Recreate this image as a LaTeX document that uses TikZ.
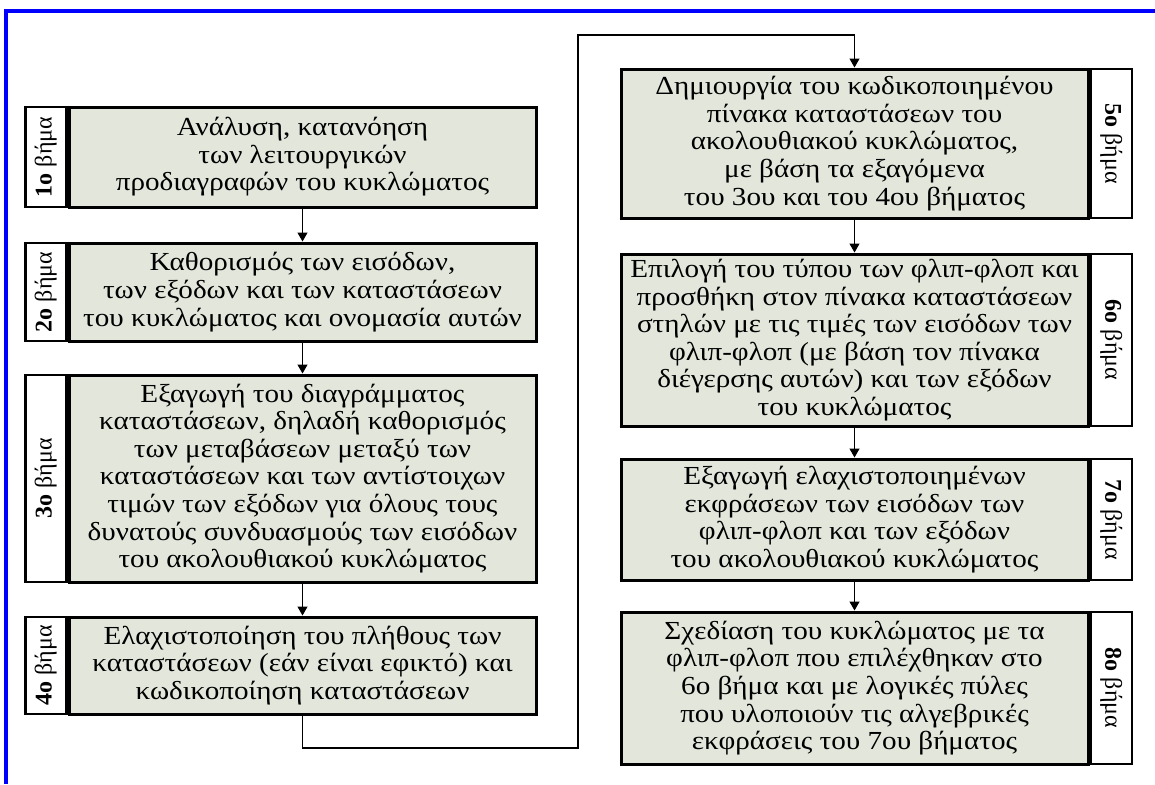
\documentclass[tikz,border=0pt]{standalone}
\usepackage{fontspec}
\setmainfont{Liberation Serif}
\newfontfamily\stepfont[FakeStretch=1.12]{Liberation Serif}
\usepackage{graphicx}
\usepackage{xcolor}
\usepackage{tikz}
\usetikzlibrary{
	arrows.meta,
	positioning
}
\definecolor{BoxGrey}{RGB}{226,230,219}
\definecolor{FrameBlue}{RGB}{0,0,255}

\tikzset{
	stepbox/.style={draw, line width=1.5pt, fill=BoxGrey, align=center, inner sep=0pt,
		minimum width=233.5pt, font=\stepfont\fontsize{13pt}{13.8pt}\selectfont},
	tagbox/.style={draw, line width=1.2pt, fill=white, inner sep=0pt,
		minimum width=20.5pt, font=\fontsize{12pt}{13.8pt}\selectfont},
	link/.style={line width=0.6pt, -{Triangle[length=4.5pt, width=5pt]}}
}

\begin{document}
\begin{tikzpicture}[x=0.5pt, y=-0.5pt]
		\useasboundingbox (0,0) rectangle (1155,784);
		
		% πλαίσιο
		\draw[FrameBlue, line width=2pt] (5.5,784) -- (5.5,11) -- (1155,11);
		
		% αριστερή στήλη
		\node[stepbox, minimum height=50pt] (s1) at (302.5,157)
			{Ανάλυση, κατανόηση\\ των λειτουργικών\\ προδιαγραφών του κυκλώματος};
		\node[stepbox, minimum height=49pt] (s2) at (302.5,292)
			{Καθορισμός των εισόδων,\\ των εξόδων και των καταστάσεων\\ του κυκλώματος και ονομασία αυτών};
		\node[stepbox, minimum height=103.5pt] (s3) at (302.5,478.5)
			{Εξαγωγή του διαγράμματος\\ καταστάσεων, δηλαδή καθορισμός\\ των μεταβάσεων μεταξύ των\\ καταστάσεων και των αντίστοιχων\\ τιμών των εξόδων για όλους τους\\ δυνατούς συνδυασμούς των εισόδων\\ του ακολουθιακού κυκλώματος};
		\node[stepbox, minimum height=48.5pt] (s4) at (302.5,665.5)
			{Ελαχιστοποίηση του πλήθους των\\ καταστάσεων (εάν είναι εφικτό) και\\ κωδικοποίηση καταστάσεων};
		
		\node[tagbox, minimum height=50pt, anchor=east] (t1) at (s1.west) {\rotatebox{90}{\textbf{1ο} βήμα}};
		\node[tagbox, minimum height=49pt, anchor=east] (t2) at (s2.west) {\rotatebox{90}{\textbf{2ο} βήμα}};
		\node[tagbox, minimum height=103.5pt, anchor=east] (t3) at (s3.west) {\rotatebox{90}{\textbf{3ο} βήμα}};
		\node[tagbox, minimum height=48.5pt, anchor=east] (t4) at (s4.west) {\rotatebox{90}{\textbf{4ο} βήμα}};
		
		% δεξιά στήλη
		\node[stepbox, minimum height=74.5pt] (s5) at (854.5,143.5)
			{Δημιουργία του κωδικοποιημένου\\ πίνακα καταστάσεων του\\ ακολουθιακού κυκλώματος,\\ με βάση τα εξαγόμενα\\ του 3ου και του 4ου βήματος};
		\node[stepbox, minimum height=86pt] (s6) at (854.5,340)
			{Επιλογή του τύπου των φλιπ-φλοπ και\\ προσθήκη στον πίνακα καταστάσεων\\ στηλών με τις τιμές των εισόδων των\\ φλιπ-φλοπ (με βάση τον πίνακα\\ διέγερσης αυτών) και των εξόδων\\ του κυκλώματος};
		\node[stepbox, minimum height=60.5pt] (s7) at (854.5,519.5)
			{Εξαγωγή ελαχιστοποιημένων\\ εκφράσεων των εισόδων των\\ φλιπ-φλοπ και των εξόδων\\ του ακολουθιακού κυκλώματος};
		\node[stepbox, minimum height=76pt] (s8) at (854.5,688)
			{Σχεδίαση του κυκλώματος με τα\\ φλιπ-φλοπ που επιλέχθηκαν στο\\ 6ο βήμα και με λογικές πύλες\\ που υλοποιούν τις αλγεβρικές\\ εκφράσεις του 7ου βήματος};
		
		\node[tagbox, minimum height=74.5pt, anchor=west] (t5) at (s5.east) {\rotatebox{-90}{\textbf{5ο} βήμα}};
		\node[tagbox, minimum height=86pt, anchor=west] (t6) at (s6.east) {\rotatebox{-90}{\textbf{6ο} βήμα}};
		\node[tagbox, minimum height=60.5pt, anchor=west] (t7) at (s7.east) {\rotatebox{-90}{\textbf{7ο} βήμα}};
		\node[tagbox, minimum height=76pt, anchor=west] (t8) at (s8.east) {\rotatebox{-90}{\textbf{8ο} βήμα}};
		
		% βέλη
		\draw[link] (s1) -- (s2);
		\draw[link] (s2) -- (s3);
		\draw[link] (s3) -- (s4);
		\draw[link] (s5) -- (s6);
		\draw[link] (s6) -- (s7);
		\draw[link] (s7) -- (s8);
		
		\coordinate (bend1) at (578,748);
		\coordinate (bend2) at (854.5,35);
		\draw[link] (s4.south) |- (bend1) |- (bend2) -- (s5.north);
	\end{tikzpicture}
\end{document}
